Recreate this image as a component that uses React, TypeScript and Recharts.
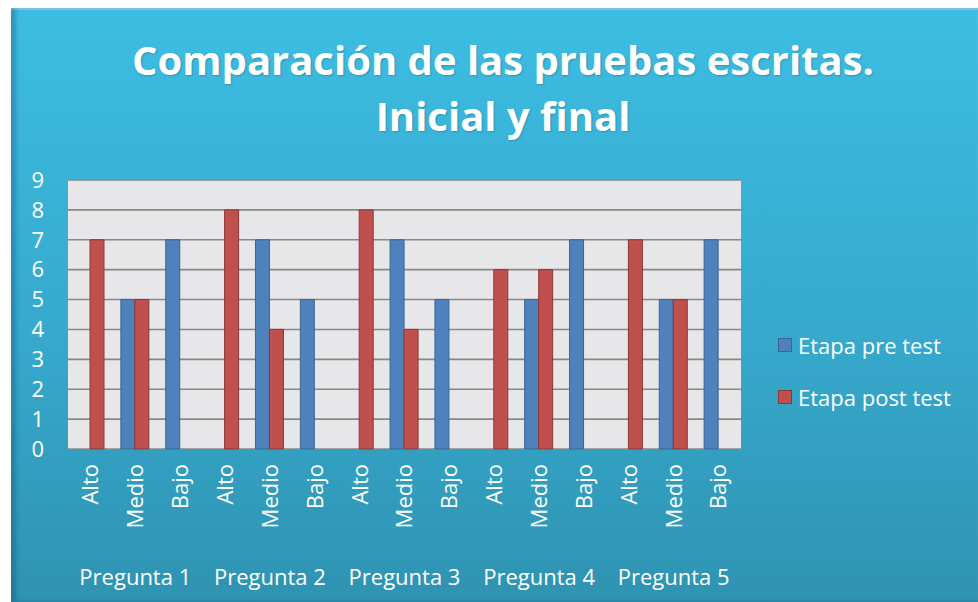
import React from 'react';
import { BarChart, Bar, XAxis, YAxis, CartesianGrid } from 'recharts';

const niveles = ['Alto', 'Medio', 'Bajo'];
const preguntas = ['Pregunta 1', 'Pregunta 2', 'Pregunta 3', 'Pregunta 4', 'Pregunta 5'];
const preTest = [0, 5, 7, 0, 7, 5, 0, 7, 5, 0, 5, 7, 0, 5, 7];
const postTest = [7, 5, 0, 8, 4, 0, 8, 4, 0, 6, 6, 0, 7, 5, 0];
const yTicks = [0, 1, 2, 3, 4, 5, 6, 7, 8, 9];
const series = [
    { key: 'pre', label: 'Etapa pre test', fill: '#4F81BD', stroke: '#3A6594' },
    { key: 'post', label: 'Etapa post test', fill: '#C0504D', stroke: '#8C3836' },
];

const data = preTest.map((v, i) => ({
    id: i,
    nivel: niveles[i % 3],
    grupo: preguntas[Math.floor(i / 3)],
    pre: v,
    post: postTest[i],
}));

const FONT = '"Open Sans", "Noto Sans", sans-serif';

const CategoryTick = (props: any) => {
    const { x, y, payload } = props;
    const row = data[payload.value];
    return (
        <g>
            <text
                x={0}
                y={0}
                transform={`translate(${x},${y + 7}) rotate(-90)`}
                textAnchor="end"
                dy="0.36em"
                fill="#ffffff"
                fontSize={22}
                fontFamily={FONT}
            >
                {row.nivel}
            </text>
            {row.nivel === 'Medio' && (
                <text x={x} y={y + 128} textAnchor="middle" fill="#ffffff" fontSize={22} fontFamily={FONT}>
                    {row.grupo}
                </text>
            )}
        </g>
    );
};

export default function App() {
    return (
        <div
            style={{
                position: 'absolute',
                left: 11,
                top: 8,
                width: 967,
                height: 594,
                background: 'linear-gradient(180deg, #3DBDE2 0%, #36A9CD 55%, #2F93B1 100%)',
                boxShadow: 'inset 5px 0 4px rgba(0,40,70,0.25), inset 0 2px 1px rgba(255,255,255,0.35)',
                overflow: 'hidden',
            }}
        >
            <div
                style={{
                    position: 'absolute',
                    left: 0,
                    top: 24,
                    width: 984,
                    textAlign: 'center',
                    color: '#ffffff',
                    fontFamily: FONT,
                    fontWeight: 700,
                    fontSize: 40,
                    lineHeight: '56px',
                    textShadow: '1px 1px 2px rgba(0,0,0,0.2)',
                }}
            >
                Comparación de las pruebas escritas.
                <br />
                Inicial y final
            </div>
            <div style={{ position: 'absolute', left: 767, top: 322, fontFamily: FONT, fontSize: 22, color: '#ffffff' }}>
                {series.map((it, i) => (
                    <div key={it.key} style={{ display: 'flex', alignItems: 'center', marginTop: i ? 22 : 0, height: 30 }}>
                        <span
                            style={{
                                display: 'inline-block',
                                width: 12,
                                height: 12,
                                background: it.fill,
                                border: `1px solid ${it.stroke}`,
                                marginRight: 6,
                            }}
                        />
                        {it.label}
                    </div>
                ))}
            </div>
            <BarChart
                width={967}
                height={594}
                data={data}
                margin={{ top: 172, right: 237, left: 17, bottom: 0 }}
                barSize={14}
                barGap={0}
            >
                <CartesianGrid vertical={false} stroke="#888888" strokeWidth={1.6} fill="#E7E6E8" fillOpacity={1} />
                <XAxis
                    dataKey="id"
                    type="category"
                    height={153}
                    axisLine={false}
                    tickLine={false}
                    interval={0}
                    tick={<CategoryTick />}
                />
                <YAxis
                    domain={[0, 9]}
                    ticks={yTicks}
                    interval={0}
                    width={40}
                    axisLine={false}
                    tickLine={false}
                    tickSize={0}
                    tickMargin={24}
                    tick={{ fill: '#ffffff', fontSize: 22, fontFamily: FONT }}
                />
                {series.map((s) => (
                    <Bar
                        key={s.key}
                        dataKey={s.key}
                        name={s.label}
                        fill={s.fill}
                        stroke={s.stroke}
                        isAnimationActive={false}
                    />
                ))}
            </BarChart>
        </div>
    );
}
